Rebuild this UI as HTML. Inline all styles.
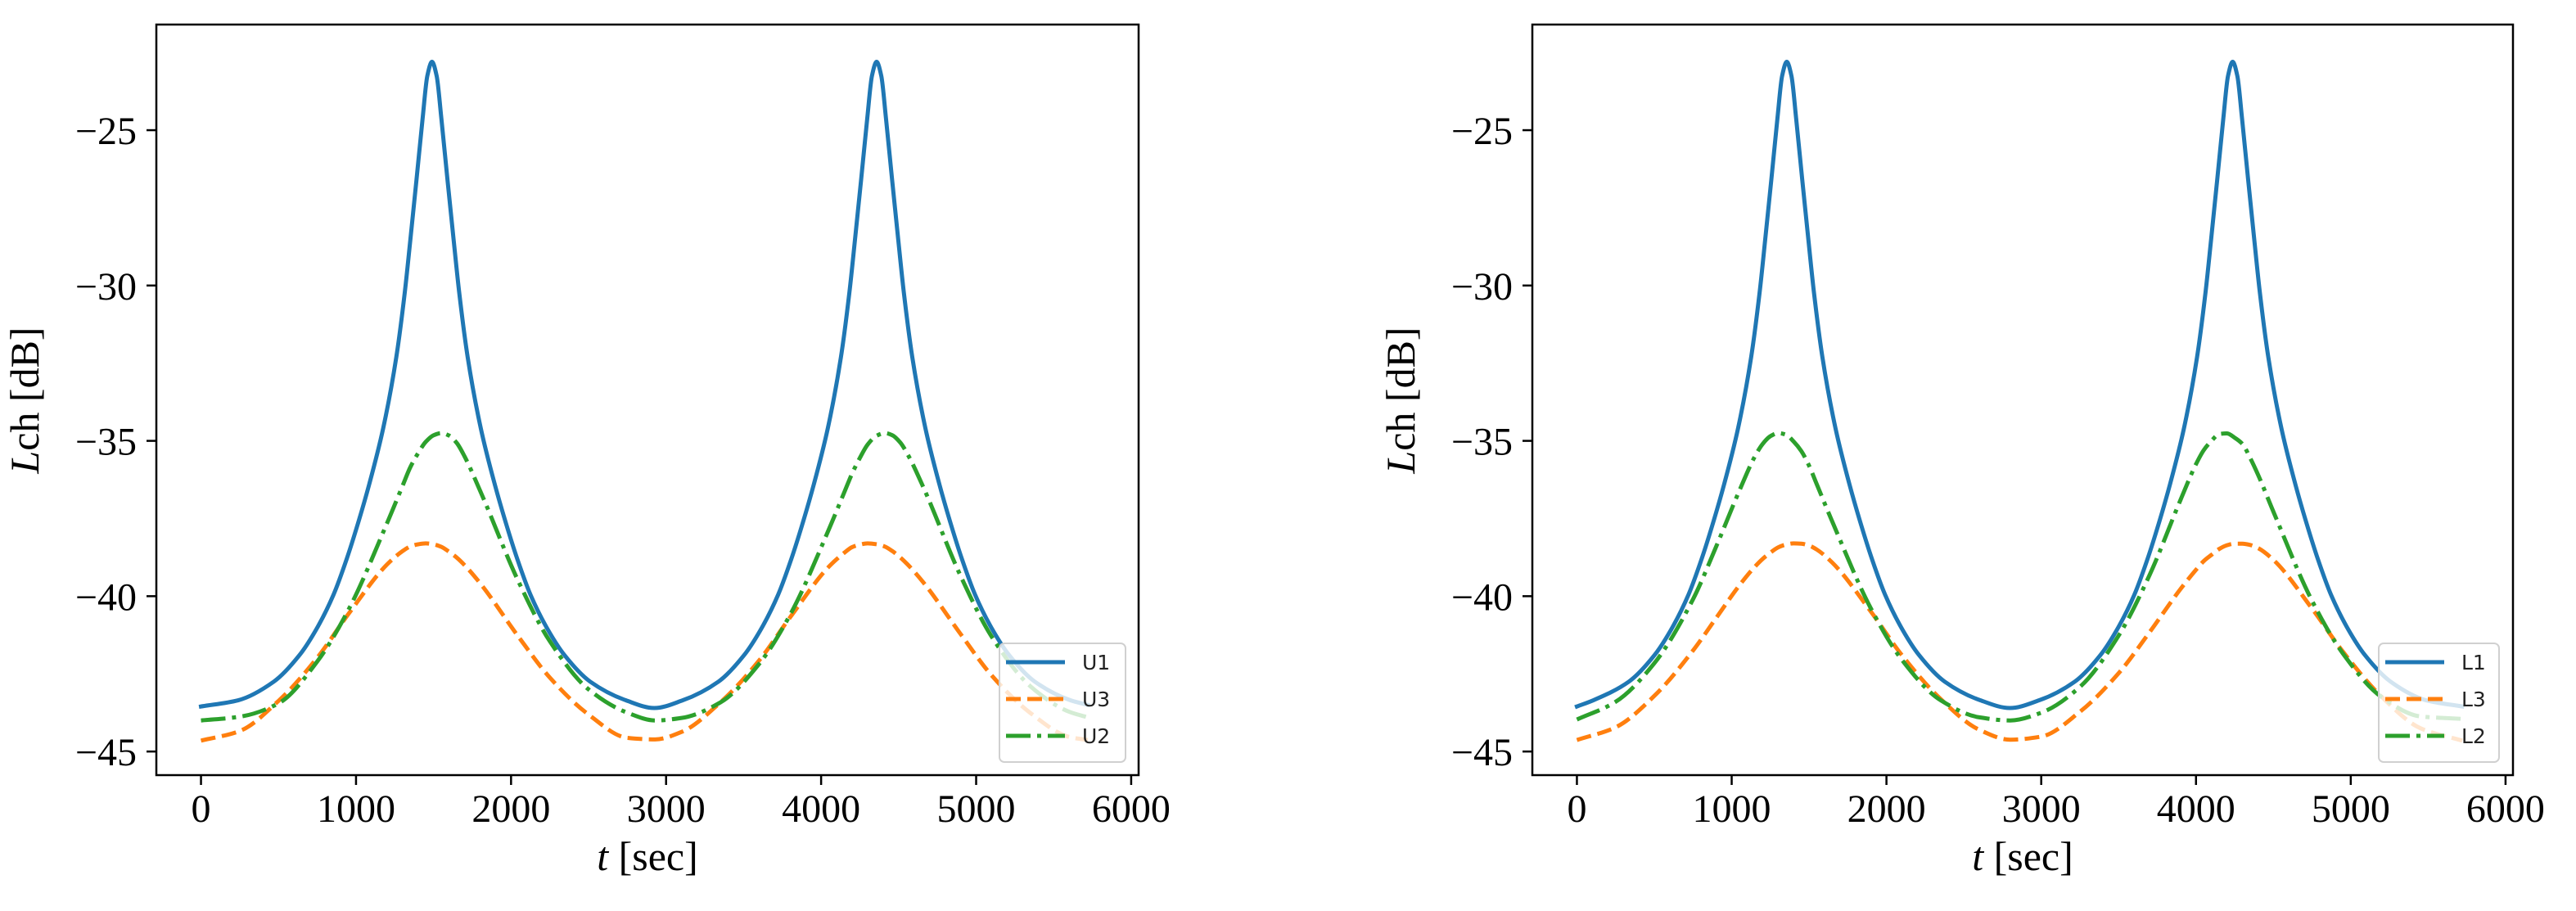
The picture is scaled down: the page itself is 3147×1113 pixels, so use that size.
<!DOCTYPE html>
<html><head><meta charset="utf-8">
<style>
html,body{margin:0;padding:0;background:#fff;}
svg{display:block;}
.tick{font-family:"Liberation Serif","DejaVu Serif",serif;font-size:48px;fill:#000;}
.lab{font-family:"Liberation Serif","DejaVu Serif",serif;font-size:50px;fill:#000;}
.leg{font-family:"DejaVu Sans","Liberation Sans",sans-serif;font-size:25px;fill:#222;}
</style></head>
<body>
<svg id="fig" width="3147" height="1113" viewBox="0 0 3147 1113" xmlns="http://www.w3.org/2000/svg"></svg>
<script>
// ---- data ----
const tU1 = [0,240,470,635,740,855,940,1010,1085,1175,1260,1315,1350,1390,1430,1460,1490,1520,1550,1590,1630,1665,1720,1805,1895,1970,2040,2125,2240,2345,2510,2740,2924,3108,3338,3503,3608,3723,3808,3878,3953,4043,4128,4183,4218,4258,4298,4328,4358,4388,4418,4458,4498,4533,4588,4673,4763,4838,4908,4993,5108,5213,5378,5608,5720];
const u1 = [-43.55,-43.35,-42.75,-41.9,-41.1,-39.95,-38.8,-37.7,-36.4,-34.6,-32.3,-30.2,-28.55,-26.6,-24.6,-23.25,-22.8,-23.25,-24.6,-26.6,-28.55,-30.2,-32.3,-34.6,-36.4,-37.7,-38.8,-39.95,-41.1,-41.9,-42.75,-43.35,-43.6,-43.35,-42.75,-41.9,-41.1,-39.95,-38.8,-37.7,-36.4,-34.6,-32.3,-30.2,-28.55,-26.6,-24.6,-23.25,-22.8,-23.25,-24.6,-26.6,-28.55,-30.2,-32.3,-34.6,-36.4,-37.7,-38.8,-39.95,-41.1,-41.9,-42.75,-43.35,-43.5];
const tLeft = [0,250,500,750,950,1200,1300,1350,1400,1450,1500,1550,1600,1650,1700,1800,2050,2250,2500,2750,2930,3100,3350,3600,3800,4050,4150,4200,4250,4300,4360,4410,4460,4510,4560,4660,4900,5100,5350,5600,5720];
const u2 = [-44.0,-43.88,-43.45,-42.1,-40.45,-37.65,-36.45,-35.85,-35.4,-35.03,-34.82,-34.75,-34.83,-35.07,-35.5,-36.6,-39.55,-41.45,-43.0,-43.75,-44.0,-43.92,-43.42,-42.18,-40.6,-37.85,-36.65,-36.05,-35.55,-35.12,-34.83,-34.75,-34.82,-35.05,-35.45,-36.5,-39.35,-41.3,-42.9,-43.72,-43.9];
const u3 = [-44.65,-44.34,-43.37,-41.98,-40.58,-38.98,-38.55,-38.4,-38.33,-38.3,-38.33,-38.41,-38.57,-38.76,-39.0,-39.58,-41.32,-42.62,-43.81,-44.56,-44.61,-44.37,-43.42,-42.07,-40.68,-39.05,-38.6,-38.42,-38.34,-38.3,-38.33,-38.4,-38.55,-38.75,-38.99,-39.56,-41.22,-42.55,-43.76,-44.53,-44.63];
const tL1 = [0,106,336,501,606,721,806,876,951,1041,1126,1181,1216,1256,1296,1326,1356,1386,1416,1456,1496,1531,1586,1671,1761,1836,1906,1991,2106,2211,2376,2606,2797,2987,3217,3382,3487,3602,3687,3757,3832,3922,4007,4062,4097,4137,4177,4207,4237,4267,4297,4337,4377,4412,4467,4552,4642,4717,4787,4872,4987,5092,5257,5487,5720];
const l1 = [-43.55,-43.35,-42.75,-41.9,-41.1,-39.95,-38.8,-37.7,-36.4,-34.6,-32.3,-30.2,-28.55,-26.6,-24.6,-23.25,-22.8,-23.25,-24.6,-26.6,-28.55,-30.2,-32.3,-34.6,-36.4,-37.7,-38.8,-39.95,-41.1,-41.9,-42.75,-43.35,-43.6,-43.35,-42.75,-41.9,-41.1,-39.95,-38.8,-37.7,-36.4,-34.6,-32.3,-30.2,-28.55,-26.6,-24.6,-23.25,-22.8,-23.25,-24.6,-26.6,-28.55,-30.2,-32.3,-34.6,-36.4,-37.7,-38.8,-39.95,-41.1,-41.9,-42.75,-43.35,-43.55];
const tRight = [0,250,500,750,900,1050,1150,1200,1250,1300,1350,1400,1450,1500,1550,1650,1900,2100,2350,2600,2800,3000,3250,3500,3700,3900,4000,4050,4100,4150,4200,4250,4300,4350,4400,4500,4750,4950,5200,5450,5720];
const l2 = [-43.97,-43.4,-42.16,-40.1,-38.4,-36.6,-35.5,-35.1,-34.85,-34.75,-34.8,-35.02,-35.33,-35.8,-36.4,-37.6,-40.4,-42.05,-43.35,-43.9,-44.0,-43.75,-42.92,-41.27,-39.32,-36.9,-35.75,-35.3,-35.0,-34.78,-34.76,-34.9,-35.1,-35.55,-36.08,-37.28,-40.15,-41.85,-43.25,-43.87,-43.95];
const l3 = [-44.63,-44.22,-43.21,-41.75,-40.7,-39.65,-39.05,-38.8,-38.6,-38.43,-38.34,-38.3,-38.31,-38.37,-38.5,-38.92,-40.5,-41.9,-43.31,-44.3,-44.62,-44.52,-43.72,-42.48,-41.16,-39.77,-39.15,-38.87,-38.67,-38.48,-38.36,-38.31,-38.31,-38.35,-38.45,-38.83,-40.4,-41.79,-43.24,-44.25,-44.65];
const xTicks = [0,1000,2000,3000,4000,5000,6000];
const yTicks = [-25,-30,-35,-40,-45];
const yTickLabels = ["\u221225","\u221230","\u221235","\u221240","\u221245"];
const leftNames = ["U1","U3","U2"];
const rightNames = ["L1","L3","L2"];

const NS = "http://www.w3.org/2000/svg";
const fig = document.getElementById('fig');
function mk(tag, attrs, parent){
  const e = document.createElementNS(NS, tag);
  for (const k in attrs) e.setAttribute(k, attrs[k]);
  (parent||fig).appendChild(e);
  return e;
}
const C = {blue:"#1f77b4", orange:"#ff7f0e", green:"#2ca02c"};
const DASH = {solid:null, dashed:"18 8", dashdot:"30 8 5 8"};
const LW = 5;

// monotone cubic (Fritsch-Carlson) in pixel space
function smoothPath(pts){
  const n = pts.length;
  const dx = [], s = [];
  for (let i=0;i<n-1;i++){ dx[i]=pts[i+1][0]-pts[i][0]; s[i]=(pts[i+1][1]-pts[i][1])/dx[i]; }
  const m = new Array(n);
  m[0]=s[0]; m[n-1]=s[n-2];
  for (let i=1;i<n-1;i++){
    if (s[i-1]*s[i] <= 0) m[i]=0;
    else { const w1=2*dx[i]+dx[i-1], w2=dx[i]+2*dx[i-1]; m[i]=(w1+w2)/(w1/s[i-1]+w2/s[i]); }
  }
  let d = "M"+pts[0][0].toFixed(2)+","+pts[0][1].toFixed(2);
  for (let i=0;i<n-1;i++){
    const h = dx[i]/3;
    d += " C"+(pts[i][0]+h).toFixed(2)+","+(pts[i][1]+m[i]*h).toFixed(2)+" "+(pts[i+1][0]-h).toFixed(2)+","+(pts[i+1][1]-m[i+1]*h).toFixed(2)+" "+pts[i+1][0].toFixed(2)+","+pts[i+1][1].toFixed(2);
  }
  return d;
}

function panel(prefix, L, R, series, names, legBox){
  const T = 30, B = 947;
  const xMin = -288, xMax = 6048, yMin = -45.76, yMax = -21.6;
  const xs = v => L + (v - xMin)/(xMax - xMin)*(R - L);
  const ys = v => B - (v - yMin)/(yMax - yMin)*(B - T);
  const g = mk('g', {});
  
  
  const clipId = prefix+'-clip';
  const cp = mk('clipPath', {id:clipId}, g);
  mk('rect', {x:L, y:T, width:R-L, height:B-T}, cp);
  const sg = mk('g', {'clip-path':'url(#'+clipId+')'}, g);
  series.forEach((s) => {
    const pts = s.t.map((t,i)=>[xs(t), ys(s.vals[i])]);
    const p = mk('path', {d:smoothPath(pts), fill:'none', stroke:s.color, 'stroke-width':LW, 'stroke-linecap': s.dash==='solid'?'square':'butt', 'stroke-linejoin':'round'}, sg);
    if (DASH[s.dash]) p.setAttribute('stroke-dasharray', DASH[s.dash]);
    
    
  });
  const fr = mk('rect', {x:L, y:T, width:R-L, height:B-T, fill:'none', stroke:'#000', 'stroke-width':2.5}, g);
  
  
  xTicks.forEach(v => {
    const x = xs(v);
    mk('line', {x1:x, y1:B, x2:x, y2:B+12, stroke:'#000', 'stroke-width':2.5}, g);
    const tx = mk('text', {x:x, y:1004, 'text-anchor':'middle', class:'tick'}, g);
    tx.textContent = String(v);
    
    
  });
  yTicks.forEach((v,i) => {
    const y = ys(v);
    mk('line', {x1:L-12, y1:y, x2:L, y2:y, stroke:'#000', 'stroke-width':2.5}, g);
    const tx = mk('text', {x:L-24, y:y+17, 'text-anchor':'end', class:'tick'}, g);
    tx.textContent = yTickLabels[i];
    
    
  });
  const xt = mk('text', {x:(L+R)/2, y:1063, 'text-anchor':'middle', class:'lab'}, g);
  xt.innerHTML = '<tspan font-style="italic">t</tspan> [sec]';
  
  
  const yt = mk('text', {x:0, y:0, 'text-anchor':'middle', class:'lab', transform:'translate('+(L-144)+',489) rotate(-90)'}, g);
  yt.innerHTML = '<tspan font-style="italic">L</tspan>ch [dB]';
  
  
  const lg = mk('g', {}, g);
  
  
  mk('rect', {x:legBox.x, y:786, width:legBox.w, height:145, rx:6, fill:'rgba(255,255,255,0.8)', stroke:'#d0d0d0', 'stroke-width':2}, lg);
  const rows = [809, 854, 899];
  series.forEach((s, i) => {
    const ln = mk('line', {x1:legBox.x+8, y1:rows[i], x2:legBox.x+80, y2:rows[i], stroke:s.color, 'stroke-width':LW}, lg);
    if (DASH[s.dash]) ln.setAttribute('stroke-dasharray', DASH[s.dash]);
    
    
    const tx = mk('text', {x:legBox.x+101, y:rows[i]+9, class:'leg'}, lg);
    tx.textContent = names[i];
    
    
  });
}

panel('left', 191, 1391, [
  {name:leftNames[0], t:tU1, vals:u1, color:C.blue, dash:'solid'},
  {name:leftNames[1], t:tLeft, vals:u3, color:C.orange, dash:'dashed'},
  {name:leftNames[2], t:tLeft, vals:u2, color:C.green, dash:'dashdot'}
], leftNames, {x:1221, w:154});

panel('right', 1872, 3070, [
  {name:rightNames[0], t:tL1, vals:l1, color:C.blue, dash:'solid'},
  {name:rightNames[1], t:tRight, vals:l3, color:C.orange, dash:'dashed'},
  {name:rightNames[2], t:tRight, vals:l2, color:C.green, dash:'dashdot'}
], rightNames, {x:2906, w:147});
</script>
</body></html>
